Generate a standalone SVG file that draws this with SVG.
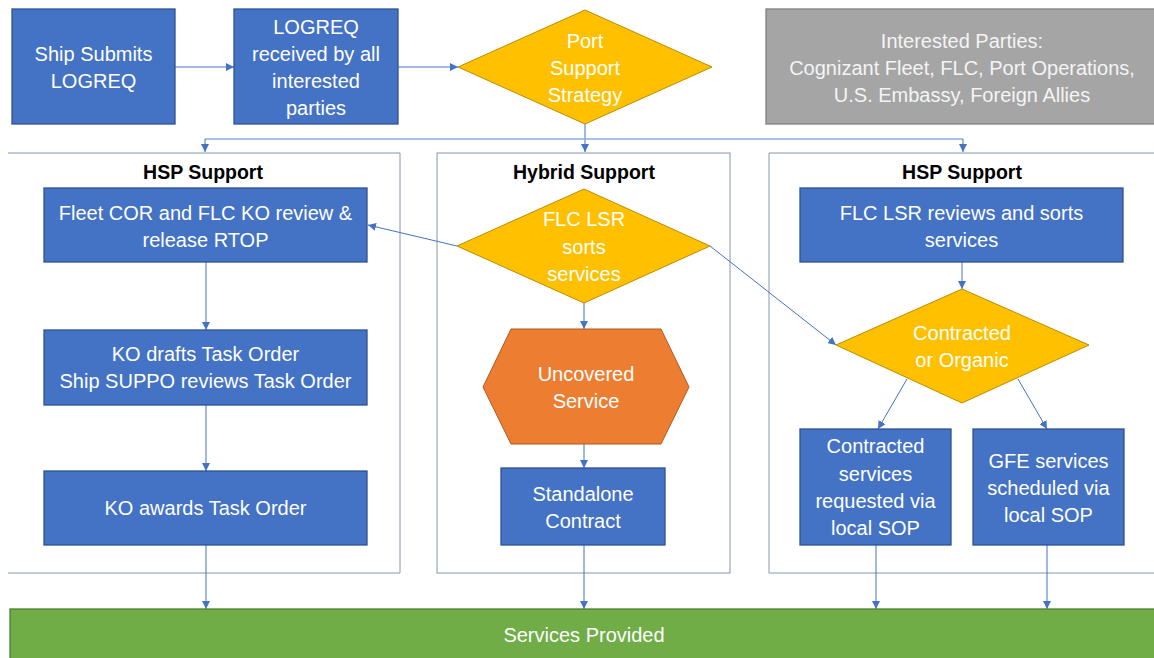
<svg xmlns="http://www.w3.org/2000/svg" width="1154" height="658" viewBox="0 0 1154 658">
  <style>
    .box { fill: #4472C4; stroke: #2F528F; stroke-width: 1.3; }
    .dia { fill: #FFC000; stroke: #BC8C00; stroke-width: 1; }
    .hex { fill: #ED7D31; stroke: #AE5A21; stroke-width: 1; }
    .gray { fill: #A5A5A5; stroke: #7F7F7F; stroke-width: 1.3; }
    .bar { fill: #70AD47; stroke: #507E32; stroke-width: 1.3; }
    .frame { fill: none; stroke: #8497B0; stroke-width: 1; }
    .t { font-family: "Liberation Sans", Arial, sans-serif; font-size: 20px; fill: #FFFFFF; text-anchor: middle; }
    .tg { fill: #F4F4F4; }
    .h { font-family: "Liberation Sans", Arial, sans-serif; font-size: 19.5px; font-weight: bold; fill: #000000; text-anchor: middle; }
    .c { fill: none; stroke: #4472C4; stroke-width: 1; marker-end: url(#arr); }
    .cl { fill: none; stroke: #8FAADC; stroke-width: 1.5; }
  </style>
  <defs>
    <marker id="arr" viewBox="0 0 10 10" refX="10" refY="5" markerWidth="8" markerHeight="8" markerUnits="userSpaceOnUse" orient="auto">
      <path d="M0,0 L10,5 L0,10 z" fill="#4472C4"/>
    </marker>
  </defs>

  <!-- swimlane frames -->
  <g id="lanes">
    <path class="frame" d="M8,153 H400 V573 H8"/>
    <rect class="frame" x="437" y="153" width="293" height="420"/>
    <path class="frame" d="M1154,153 H769 V573 H1154"/>
    <text class="h" x="203" y="179">HSP Support</text>
    <text class="h" x="584" y="179">Hybrid Support</text>
    <text class="h" x="962" y="179">HSP Support</text>
  </g>

  <!-- connectors -->
  <g id="connectors">
    <path class="c" d="M175,67 H234"/>
    <path class="c" d="M398,67 H458"/>
    <path class="c" d="M585,124 V152"/>
    <path class="cl" d="M205,139 H963"/>
    <path class="c" d="M205,139 V152"/>
    <path class="c" d="M963,139 V152"/>
    <path class="c" d="M206,262 V330"/>
    <path class="c" d="M206,405 V471"/>
    <path class="c" d="M206,545 V609"/>
    <path class="c" d="M457,246 L368,225"/>
    <path class="c" d="M710,246 L836,345"/>
    <path class="c" d="M584,303 V329"/>
    <path class="c" d="M584,444 V468"/>
    <path class="c" d="M584,545 V609"/>
    <path class="c" d="M962,262 V289"/>
    <path class="c" d="M907,379 L878,429"/>
    <path class="c" d="M1018,379 L1047,429"/>
    <path class="c" d="M876,545 V609"/>
    <path class="c" d="M1047,545 V609"/>
  </g>

  <g id="ship-submits">
    <rect class="box" x="12" y="9" width="163" height="115"/>
    <text class="t" x="93.5" y="61">Ship Submits</text>
    <text class="t" x="93.5" y="88">LOGREQ</text>
  </g>

  <g id="logreq-received">
    <rect class="box" x="234" y="9" width="164" height="115"/>
    <text class="t" x="316" y="34">LOGREQ</text>
    <text class="t" x="316" y="61">received by all</text>
    <text class="t" x="316" y="88">interested</text>
    <text class="t" x="316" y="115">parties</text>
  </g>

  <g id="port-support-strategy">
    <polygon class="dia" points="585,10 712,67 585,124 458,67"/>
    <text class="t" x="585" y="48">Port</text>
    <text class="t" x="585" y="75">Support</text>
    <text class="t" x="585" y="102">Strategy</text>
  </g>

  <g id="interested-parties">
    <rect class="gray" x="766" y="9" width="395" height="115"/>
    <text class="t tg" x="962" y="48">Interested Parties:</text>
    <text class="t tg" x="962" y="75">Cognizant Fleet, FLC, Port Operations,</text>
    <text class="t tg" x="962" y="102">U.S. Embassy, Foreign Allies</text>
  </g>

  <g id="fleet-cor-review">
    <rect class="box" x="44" y="188" width="323" height="74"/>
    <text class="t" x="205.5" y="220">Fleet COR and FLC KO review &amp;</text>
    <text class="t" x="205.5" y="247">release RTOP</text>
  </g>

  <g id="ko-drafts">
    <rect class="box" x="44" y="330" width="323" height="75"/>
    <text class="t" x="205.5" y="361">KO drafts Task Order</text>
    <text class="t" x="205.5" y="388">Ship SUPPO reviews Task Order</text>
  </g>

  <g id="ko-awards">
    <rect class="box" x="44" y="471" width="323" height="74"/>
    <text class="t" x="205.5" y="515">KO awards Task Order</text>
  </g>

  <g id="flc-lsr-sorts">
    <polygon class="dia" points="584,189 710,246 584,303 457,246"/>
    <text class="t" x="584" y="226">FLC LSR</text>
    <text class="t" x="584" y="254">sorts</text>
    <text class="t" x="584" y="281">services</text>
  </g>

  <g id="uncovered-service">
    <polygon class="hex" points="511,329 661,329 689,387 661,444 511,444 483,387"/>
    <text class="t" x="586" y="381">Uncovered</text>
    <text class="t" x="586" y="408">Service</text>
  </g>

  <g id="standalone-contract">
    <rect class="box" x="501" y="468" width="164" height="77"/>
    <text class="t" x="583" y="501">Standalone</text>
    <text class="t" x="583" y="528">Contract</text>
  </g>

  <g id="flc-lsr-reviews">
    <rect class="box" x="800" y="188" width="323" height="74"/>
    <text class="t" x="961.5" y="220">FLC LSR reviews and sorts</text>
    <text class="t" x="961.5" y="247">services</text>
  </g>

  <g id="contracted-or-organic">
    <polygon class="dia" points="962,289 1089,345 962,403 836,345"/>
    <text class="t" x="962" y="340">Contracted</text>
    <text class="t" x="962" y="367">or Organic</text>
  </g>

  <g id="contracted-services">
    <rect class="box" x="800" y="429" width="151" height="116"/>
    <text class="t" x="875.5" y="453">Contracted</text>
    <text class="t" x="875.5" y="481">services</text>
    <text class="t" x="875.5" y="508">requested via</text>
    <text class="t" x="875.5" y="535">local SOP</text>
  </g>

  <g id="gfe-services">
    <rect class="box" x="973" y="429" width="151" height="116"/>
    <text class="t" x="1048.5" y="468">GFE services</text>
    <text class="t" x="1048.5" y="495">scheduled via</text>
    <text class="t" x="1048.5" y="522">local SOP</text>
  </g>

  <g id="services-provided">
    <rect class="bar" x="10" y="609" width="1150" height="55"/>
    <text class="t" x="584" y="642">Services Provided</text>
  </g>
</svg>
